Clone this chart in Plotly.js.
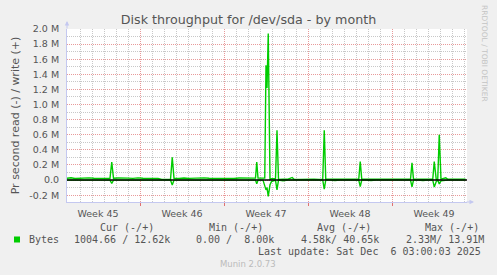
<!DOCTYPE html>
<html>
<head>
<meta charset="utf-8">
<script src="https://cdn.plot.ly/plotly-3.0.1.min.js"></script>
<style>
html,body{margin:0;padding:0;background:#F0F0F0;}
#chart{width:497px;height:275px;}
</style>
</head>
<body>
<div id="chart"></div>
<script>
// ---- data (bytes per second) ----
const times = [
"2025-11-02 22:00","2025-11-03 06:00","2025-11-03 14:00","2025-11-03 22:00","2025-11-04 08:00",
"2025-11-04 18:00","2025-11-05 04:00","2025-11-05 14:00","2025-11-06 00:00","2025-11-06 12:00",
"2025-11-06 15:30","2025-11-06 19:00","2025-11-07 04:00","2025-11-07 14:00","2025-11-08 00:00",
"2025-11-08 10:00","2025-11-08 20:00","2025-11-09 06:00","2025-11-09 16:00","2025-11-10 02:00",
"2025-11-10 12:00","2025-11-10 19:30","2025-11-11 13:00","2025-11-11 16:30","2025-11-11 20:00",
"2025-11-12 06:00","2025-11-12 16:00","2025-11-13 02:00","2025-11-13 12:00","2025-11-13 22:00",
"2025-11-14 08:00","2025-11-14 18:00","2025-11-15 04:00","2025-11-15 14:00","2025-11-16 00:00",
"2025-11-16 10:00","2025-11-16 20:00","2025-11-17 06:00","2025-11-17 16:00","2025-11-18 02:00",
"2025-11-18 12:00","2025-11-18 15:00","2025-11-18 17:30","2025-11-18 20:00","2025-11-19 06:00",
"2025-11-19 09:30","2025-11-19 12:00","2025-11-19 14:00","2025-11-19 16:30","2025-11-19 20:00",
"2025-11-19 23:00","2025-11-20 07:00","2025-11-20 10:00","2025-11-20 13:00","2025-11-20 22:00",
"2025-11-21 08:00","2025-11-21 16:30","2025-11-21 20:00","2025-11-22 06:00","2025-11-22 16:00",
"2025-11-23 02:00","2025-11-23 12:00","2025-11-23 22:00","2025-11-24 05:30","2025-11-24 08:30",
"2025-11-24 11:30","2025-11-24 20:00","2025-11-25 06:00","2025-11-25 16:00","2025-11-26 02:00",
"2025-11-26 12:00","2025-11-26 22:00","2025-11-27 05:30","2025-11-27 08:30","2025-11-27 11:30",
"2025-11-27 20:00","2025-11-28 06:00","2025-11-28 16:00","2025-11-29 02:00","2025-11-29 12:00",
"2025-11-29 22:00","2025-11-30 08:00","2025-11-30 18:00","2025-12-01 04:00","2025-12-01 13:00",
"2025-12-01 16:00","2025-12-01 19:00","2025-12-02 04:00","2025-12-02 14:00","2025-12-03 00:00",
"2025-12-03 09:30","2025-12-03 12:30","2025-12-03 16:30","2025-12-03 19:30","2025-12-03 22:30",
"2025-12-04 02:00","2025-12-04 11:30","2025-12-04 16:00","2025-12-05 02:00","2025-12-05 12:00",
"2025-12-05 22:00","2025-12-06 03:00"
];
const writeBytes = [
24000,30000,22000,26000,23000,
29000,24000,22000,27000,23000,
240000,24000,28000,22000,26000,
23000,29000,24000,22000,27000,
23000,9000,8000,300000,24000,
22000,28000,23000,27000,22000,
29000,24000,22000,27000,23000,
26000,22000,28000,24000,26000,
26000,26000,240000,26000,26000,
26000,1520000,1220000,1940000,10000,
17000,17000,660000,8000,11000,
12000,35000,12000,10000,13000,
11000,12000,10000,12000,660000,
12000,11000,13000,10000,12000,
11000,13000,11000,245000,12000,
10000,12000,11000,13000,10000,
12000,11000,13000,10000,12000,
230000,11000,13000,10000,12000,
11000,245000,8000,12000,600000,
12000,30000,11000,13000,10000,
12000,12620
];
const readBytes = [
0,0,0,0,0,
0,0,0,0,0,
45000,0,0,0,0,
0,0,0,0,0,
0,0,0,66000,0,
0,0,0,0,0,
0,0,0,0,0,
0,0,0,0,0,
0,0,50000,0,0,
85000,130000,100000,215000,62000,
20000,0,130000,0,8000,
0,0,0,5000,0,
0,6000,0,0,120000,
0,0,5000,0,0,
0,0,0,85000,0,
0,5000,0,0,0,
6000,0,0,0,0,
90000,0,0,5000,0,
0,90000,20000,0,50000,
10000,0,0,0,4000,
0,1005
];
const weekStarts = ["2025-11-09","2025-11-16","2025-11-23","2025-11-30"];
const weekMids = ["2025-11-05 12:00","2025-11-12 12:00","2025-11-19 12:00","2025-11-26 12:00","2025-12-03 12:00"];
const weekLabels = ["Week 45","Week 46","Week 47","Week 48","Week 49"];
const yTickVals = [-200000,0,200000,400000,600000,800000,1000000,1200000,1400000,1600000,1800000,2000000];
const yTickText = ["-0.2 M","0.0","0.2 M","0.4 M","0.6 M","0.8 M","1.0 M","1.2 M","1.4 M","1.6 M","1.8 M","2.0 M"];
const legendHeaders = ["Cur (-/+)","Min (-/+)","Avg (-/+)","Max (-/+)"];
const legendValues = ["1004.66 / 12.62k","0.00 /\u00A0 8.00k","4.58k/ 40.65k","2.33M/ 13.91M"];
const seriesName = "Bytes";
const lastUpdate = "Last update: Sat Dec \u00A06 03:00:03 2025";

// ---- layout helpers (pixel -> paper) ----
const W = 497, H = 275, L = 67, R = 30, T = 29, B = 73;
const PW = W - L - R, PH = H - T - B;
const px = x => (x - L) / PW;
const py = y => (T + PH - y) / PH;

const xRange = ["2025-11-02 22:00", "2025-12-06 06:00"];
const green = "#00CC00";
const txt = "#555555";
const mono = "DejaVu Sans Mono";

const traces = [
  {x: times, y: writeBytes, type: "scatter", mode: "lines", xaxis: "x", yaxis: "y",
   line: {color: green, width: 1.4}, hoverinfo: "skip", showlegend: false},
  {x: times, y: readBytes.map(v => -v), type: "scatter", mode: "lines", xaxis: "x2", yaxis: "y",
   line: {color: green, width: 1.4}, hoverinfo: "skip", showlegend: false}
];

const annotations = [];
const colX = [98, 207, 315, 423];
legendHeaders.forEach((h, i) => annotations.push({
  text: h, xref: "paper", yref: "paper", x: px(colX[i]), y: py(227.7),
  xanchor: "left", yanchor: "middle", showarrow: false, font: {family: mono, size: 10, color: txt}
}));
const valX = [72, 194, 299, 404];
legendValues.forEach((v, i) => annotations.push({
  text: v, xref: "paper", yref: "paper", x: px(valX[i]), y: py(239.3),
  xanchor: "left", yanchor: "middle", showarrow: false, font: {family: mono, size: 10, color: txt}
}));
annotations.push({text: seriesName, xref: "paper", yref: "paper", x: px(27), y: py(239.3),
  xanchor: "left", yanchor: "middle", showarrow: false, font: {family: mono, size: 10, color: txt}});
annotations.push({text: lastUpdate, xref: "paper", yref: "paper", x: px(483), y: py(251),
  xanchor: "right", yanchor: "middle", showarrow: false, font: {family: mono, size: 10, color: txt}});
annotations.push({text: "Munin 2.0.73", xref: "paper", yref: "paper", x: px(248), y: py(264),
  xanchor: "center", yanchor: "middle", showarrow: false, font: {family: "DejaVu Sans", size: 8.5, color: "#bbbbbb"}});
annotations.push({text: "RRDTOOL / TOBI OETIKER", xref: "paper", yref: "paper", x: px(485), y: py(53),
  xanchor: "center", yanchor: "middle", textangle: 90, showarrow: false,
  font: {family: "DejaVu Sans", size: 7.5, color: "#c4c4c4"}});
// axis arrows
annotations.push({text: "", xref: "paper", yref: "paper", x: px(67), y: py(21), ax: 0, ay: 9,
  showarrow: true, arrowhead: 2, arrowsize: 0.9, arrowwidth: 1, arrowcolor: "#c4c8f0"});
annotations.push({text: "", xref: "paper", yref: "paper", x: px(474), y: py(202), ax: -9, ay: 0,
  showarrow: true, arrowhead: 2, arrowsize: 0.9, arrowwidth: 1, arrowcolor: "#c4c8f0"});

const shapes = [
  {type: "line", xref: "paper", x0: 0, x1: 1, yref: "y", y0: 0, y1: 0, layer: "above",
   line: {color: "#000000", width: 1.5}},
  {type: "rect", xref: "paper", yref: "paper", x0: px(14), x1: px(20), y0: py(242.5), y1: py(236.5),
   fillcolor: green, line: {width: 0}}
];

const layout = {
  width: W, height: H,
  margin: {l: L, r: R, t: T, b: B, pad: 0},
  paper_bgcolor: "#F0F0F0", plot_bgcolor: "#FFFFFF",
  showlegend: false,
  title: {text: "Disk throughput for /dev/sda - by month", xref: "container", yref: "container",
    x: 0.5, xanchor: "center", y: 1 - 19.3 / H, yanchor: "middle",
    font: {family: "DejaVu Sans", size: 12.7, color: txt}},
  xaxis: {type: "date", range: xRange, tickmode: "array", tickvals: weekStarts,
    showticklabels: false, ticks: "outside", ticklen: 3, tickcolor: "#e07070",
    showgrid: true, gridcolor: "#e89a9a", griddash: "1px,1px", gridwidth: 1,
    minor: {tickmode: "linear", tick0: "2025-11-02", dtick: 86400000, showgrid: true,
      gridcolor: "#c8c8c8", griddash: "1px,1px", gridwidth: 1, ticks: ""},
    showline: true, linecolor: "#c4c8f0", linewidth: 1, zeroline: false, fixedrange: true},
  xaxis2: {type: "date", range: xRange, overlaying: "x", anchor: "y", side: "bottom",
    tickmode: "array", tickvals: weekMids, ticktext: weekLabels, ticks: "",
    showgrid: false, showline: false, zeroline: false, ticklabelstandoff: 4,
    tickfont: {family: "DejaVu Sans", size: 9.5, color: txt}},
  yaxis: {range: [-290000, 2000000], tickmode: "array", tickvals: yTickVals, ticktext: yTickText,
    ticks: "", ticklabelstandoff: 5,
    tickfont: {family: "DejaVu Sans", size: 9.5, color: txt},
    showgrid: true, gridcolor: "#e89a9a", griddash: "1px,1px", gridwidth: 1,
    minor: {tickmode: "linear", tick0: 0, dtick: 100000, showgrid: true,
      gridcolor: "#c8c8c8", griddash: "1px,1px", gridwidth: 1, ticks: ""},
    showline: true, linecolor: "#c4c8f0", linewidth: 1, zeroline: false,
    title: {text: "Pr second read (-) / write (+)", standoff: 7,
      font: {family: "DejaVu Sans", size: 11, color: txt}}},
  annotations: annotations,
  shapes: shapes
};

Plotly.newPlot("chart", traces, layout, {staticPlot: true, displayModeBar: false});
</script>
</body>
</html>
